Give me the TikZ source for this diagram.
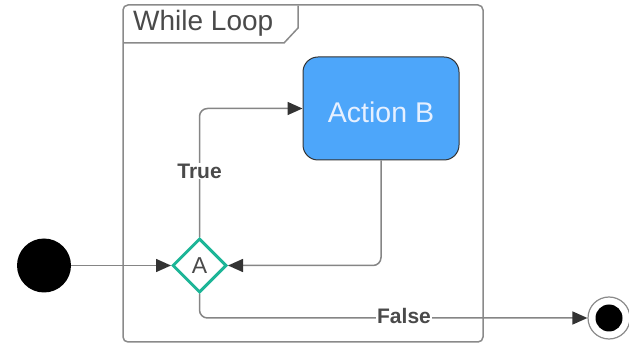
\documentclass[tikz,border=0pt]{standalone}
\usepackage{fontspec}
\setmainfont{Liberation Sans}
\usetikzlibrary{arrows.meta,shapes.geometric}
\definecolor{framegray}{HTML}{8A8A8A}
\definecolor{linegray}{HTML}{858585}
\definecolor{tipgray}{HTML}{333333}
\definecolor{textgray}{HTML}{4A4A4A}
\definecolor{actionblue}{HTML}{4DA6FA}
\definecolor{actiontext}{HTML}{E6F0FF}
\definecolor{decisionteal}{HTML}{1DB597}
\tikzset{
  conn/.style={draw=linegray, line width=1.5pt, rounded corners=8pt,
    -{Triangle[length=15pt,width=13pt,color=tipgray]}},
  guardlbl/.style={font=\bfseries\fontsize{21}{23}\selectfont, text=textgray,
    fill=white, inner sep=1pt},
  actionbox/.style={draw=tipgray, line width=1pt, fill=actionblue, rounded corners=15pt,
    minimum width=156pt, minimum height=103pt, text=actiontext,
    font=\fontsize{28.5}{30}\selectfont},
  decision/.style={diamond, draw=decisionteal, line width=3pt, fill=white,
    minimum width=54pt, minimum height=54pt, inner sep=0pt, text=textgray,
    font=\fontsize{23}{25}\selectfont},
  startdot/.style={circle, fill=black, minimum size=54pt, inner sep=0pt},
  endring/.style={circle, draw=framegray, line width=1.2pt, fill=white,
    minimum size=42pt, inner sep=0pt},
  enddot/.style={circle, fill=black, minimum size=27pt, inner sep=0pt},
}
\begin{document}
\begin{tikzpicture}[x=1pt,y=-1pt]
  \useasboundingbox (0,0) rectangle (629,344);
  % loop frame with its title tab
  \draw[framegray, line width=1.5pt, rounded corners=5pt] (123,5) rectangle (483,342);
  \draw[framegray, line width=1.5pt] (123,43) -- (284,43) -- (298,28) -- (298,5.75);
  \node[anchor=west, text=textgray, font=\fontsize{28}{30}\selectfont, inner sep=0pt]
    (title) at (133,23.5) {While Loop};

  % states
  \node[startdot] (start) at (44,265.5) {};
  \node[decision] (a) at (199.5,265.5) {A};
  \node[actionbox] (b) at (381,108.5) {\raisebox{-3.5pt}[\height][0pt]{Action B}};
  \node[endring] (fin) at (609,318) {};
  \node[enddot] (findot) at (609,318) {};

  % corner points of the routed connectors
  \coordinate (tc) at (a.north |- b.west);
  \coordinate (bc) at (b.south |- a.east);
  \coordinate (fc) at (a.south |- fin.west);

  % transitions
  \draw[conn] (start.east) -- (a.west);
  \draw[conn] (a.north) -- (tc) -- (b.west);
  \draw[conn] (b.south) -- (bc) -- (a.east);
  \draw[conn] (a.south) -- (fc) -- (fin.west);

  % guards
  \node[guardlbl] (ltrue) at (199.5,171) {True};
  \node[guardlbl] (lfalse) at (404,316) {False};
\end{tikzpicture}
\end{document}
